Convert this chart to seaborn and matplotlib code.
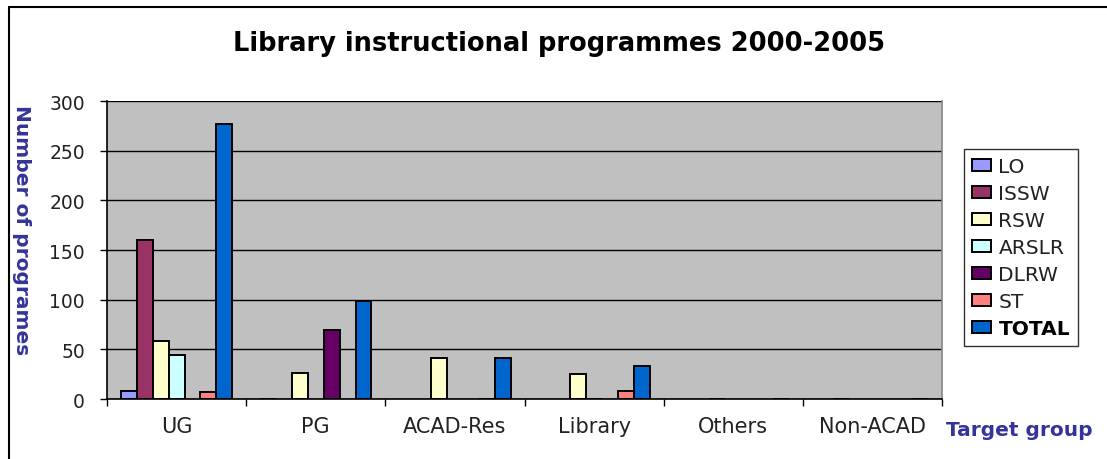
import numpy as np
import pandas as pd
import matplotlib
matplotlib.use("Agg")
import matplotlib.pyplot as plt
from matplotlib.lines import Line2D
import seaborn as sns

categories = ["UG", "PG", "ACAD-Res", "Library", "Others", "Non-ACAD"]
series = ["LO", "ISSW", "RSW", "ARSLR", "DLRW", "ST", "TOTAL"]
nan = np.nan
LO    = [8,   0,   nan, nan, nan, nan]
ISSW  = [160, nan, nan, nan, nan, 0]
RSW   = [58,  26,  41,  25,  0,   nan]
ARSLR = [44,  nan, nan, 0,   nan, nan]
DLRW  = [nan, 69,  nan, nan, nan, nan]
ST    = [7,   nan, 0,   8,   nan, nan]
TOTAL = [277, 99,  41,  33,  0,   0]
colors = ["#9999FF", "#993366", "#FFFFCC", "#CCFFFF", "#660066", "#FF8080", "#0066CC"]

rows = []
for name, vals in zip(series, [LO, ISSW, RSW, ARSLR, DLRW, ST, TOTAL]):
    for c, v in zip(categories, vals):
        if not np.isnan(v):
            rows.append({"group": c, "series": name, "value": v})
df = pd.DataFrame(rows)

sns.set_theme(style="white")
plt.rcParams["font.family"] = ["DejaVu Sans"]

fig = plt.figure(figsize=(11.07, 4.6), dpi=100)
ax = fig.add_axes([0.0967, 0.1304, 0.7543, 0.6478])
ax.set_facecolor("#C0C0C0")
ax.set_axisbelow(True)

sns.barplot(data=df, x="group", y="value", hue="series", order=categories,
            hue_order=series, palette=colors, width=0.8, edgecolor="black",
            linewidth=1.4, saturation=1, ax=ax, legend=True, errorbar=None)

ax.set_ylim(0, 300)
ax.set_xlim(-0.5, 5.5)
ax.set_yticks(np.arange(0, 301, 50))
ax.yaxis.grid(True, color="black", linewidth=1.0)
ax.xaxis.grid(False)
ax.tick_params(axis="y", which="major", length=5, width=1, color="black",
               direction="out", left=True, labelsize=13.5, labelcolor="#222222", pad=11)
ax.set_xticks(range(len(categories)))
ax.set_xticklabels(categories)
ax.tick_params(axis="x", which="major", length=0, labelsize=15, labelcolor="#222222", pad=12)
ax.set_xticks(np.arange(-0.5, 6, 1), minor=True)
ax.tick_params(axis="x", which="minor", length=5, width=1, color="black", direction="out", bottom=True)
ax.set_xlabel("")
ax.set_ylabel("")
for s in ["left", "bottom"]:
    ax.spines[s].set_color("black")
    ax.spines[s].set_linewidth(1.2)
ax.spines["right"].set_color("#888888")
ax.spines["top"].set_visible(False)

handles, labels = ax.get_legend_handles_labels()
ax.get_legend().remove()
leg = fig.legend(handles, labels, loc="upper left", bbox_to_anchor=(0.871, 0.674),
                 frameon=True, fancybox=False, edgecolor="black", fontsize=14.5,
                 handlelength=0.95, handleheight=0.55, handletextpad=0.35,
                 labelspacing=0.4, borderpad=0.4, borderaxespad=0)
leg.get_frame().set_linewidth(1.0)
for t in leg.get_texts():
    t.set_color("#222222")
    if t.get_text() == "TOTAL":
        t.set_fontweight("bold")
        t.set_color("black")

fig.text(0.505, 0.905, "Library instructional programmes 2000-2005", ha="center", va="center",
         fontsize=18.5, fontweight="bold", color="black")
fig.text(0.019, 0.50, "Number of programes", rotation=-90, ha="center", va="center",
         fontsize=14.5, fontweight="bold", color="#333399")
fig.text(0.9205, 0.064, "Target group", ha="center", va="center",
         fontsize=14.5, fontweight="bold", color="#333399")

fig.add_artist(Line2D([0.008, 1.0], [0.982, 0.982], color="black", linewidth=1.5, transform=fig.transFigure))
fig.add_artist(Line2D([0.008, 0.008], [0.0, 0.982], color="black", linewidth=1.5, transform=fig.transFigure))

fig.savefig("out.png", dpi=100)
